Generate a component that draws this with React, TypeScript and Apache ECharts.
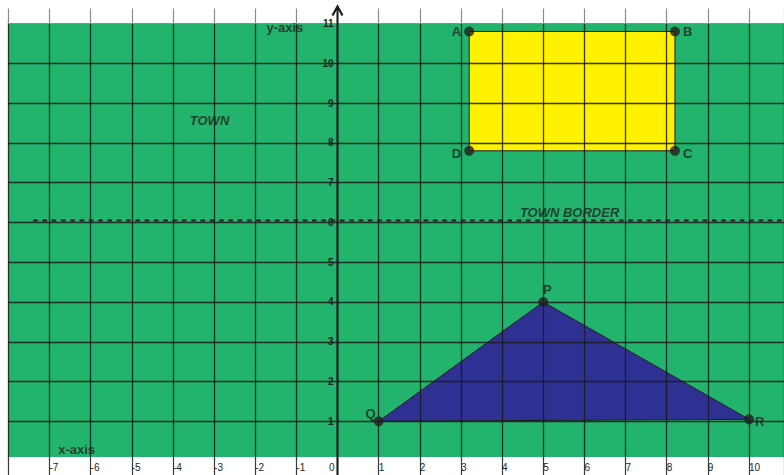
import React, { useEffect, useRef } from "react";
import * as echarts from "echarts";

// Axis extents and ticks
const X_MIN = -8;
const X_MAX = 10.85;
const Y_MIN = 0;
const Y_MAX = 11;
const TICK_STEP = 1;
const GREEN_BOTTOM = 0.1;

// Rectangle ABCD
const rectNames = ["A", "B", "C", "D"];
const rectX = [3.2, 8.2, 8.2, 3.2];
const rectY = [10.8, 10.8, 7.8, 7.8];

// Triangle PQR
const triNames = ["P", "R", "Q"];
const triX = [5, 10, 1];
const triY = [4, 1.05, 1];

// Town border (dashed)
const borderX = [-7.4, X_MAX];
const borderY = [6.05, 6.05];

// Text annotations
const noteTexts = ["TOWN", "TOWN BORDER", "y-axis", "x-axis"];
const noteX = [-3.11, 5.64, -1.28, -6.34];
const noteY = [8.57, 6.26, 10.9, 0.28];
const noteItalic = [true, true, false, false];

const GREEN = "#22b36c";
const YELLOW = "#fff200";
const NAVY = "#2e3192";
const INK = "#231f20";
const GRID_LINE = "rgba(25,25,25,0.85)";
const FONT = "'Liberation Sans', Arial, Helvetica, sans-serif";

const labelPos: Record<string, any> = {
  A: { position: "left", distance: 3, offset: [0, 0] },
  B: { position: "right", distance: 3, offset: [0, 0] },
  C: { position: "right", distance: 3, offset: [0, 3] },
  D: { position: "left", distance: 3, offset: [0, 3] },
  P: { position: "top", distance: 1, offset: [4, 0] },
  Q: { position: "left", distance: 0, offset: [2, -8] },
  R: { position: "right", distance: 1, offset: [0, 2] },
};

function polygonSeries(xs: number[], ys: number[], fill: string) {
  return {
    type: "custom",
    z: -2,
    silent: true,
    clip: false,
    data: xs.map((x, i) => [x, ys[i]]),
    renderItem: (params: any, api: any) => {
      if (params.dataIndex !== 0) return null;
      const pts = xs.map((x, i) => api.coord([x, ys[i]]));
      return {
        type: "polygon",
        shape: { points: pts },
        style: { fill, stroke: INK, lineWidth: 1 },
      };
    },
  };
}

export default function App() {
  const ref = useRef<HTMLDivElement>(null);

  useEffect(() => {
    if (!ref.current) return;
    const chart = echarts.init(ref.current, null, { renderer: "svg" });

    const pointData = [
      ...rectNames.map((n, i) => ({ name: n, value: [rectX[i], rectY[i]] })),
      ...triNames.map((n, i) => ({ name: n, value: [triX[i], triY[i]] })),
    ].map((d) => ({
      ...d,
      label: {
        show: true,
        formatter: "{b}",
        ...labelPos[d.name],
      },
    }));

    const noteData = noteTexts.map((t, i) => ({
      name: t,
      value: [noteX[i], noteY[i]],
      label: {
        show: true,
        position: "inside",
        formatter: "{b}",
        fontStyle: noteItalic[i] ? "italic" : "normal",
        fontSize: 13,
        fontWeight: "bold",
        color: INK,
      },
    }));

    const baseX = {
      type: "value",
      min: X_MIN,
      max: X_MAX,
      interval: TICK_STEP,
    };

    const option: any = {
      animation: false,
      backgroundColor: "#ffffff",
      textStyle: { fontFamily: FONT },
      grid: {
        left: 8.3,
        right: 0,
        top: 23.5,
        bottom: 13.9,
        containLabel: false,
        outerBoundsMode: "none",
      },
      xAxis: [
        {
          ...baseX,
          position: "bottom",
          axisLine: { show: false, onZero: false },
          axisTick: {
            show: true,
            length: 14,
            lineStyle: { color: "#3a3a3a", width: 1.2 },
          },
          axisLabel: {
            formatter: (v: number) =>
              Number.isInteger(v) && v !== 0 && v !== X_MIN ? String(v) : "",
            align: "left",
            verticalAlign: "middle",
            margin: 6,
            fontSize: 10,
            color: INK,
            fontFamily: FONT,
          },
          splitLine: {
            show: true,
            lineStyle: { color: GRID_LINE, width: 1.3 },
          },
        },
        {
          ...baseX,
          position: "bottom",
          axisLine: { show: false, onZero: false },
          axisTick: { show: false },
          splitLine: { show: false },
          axisLabel: {
            formatter: (v: number) => (v === 0 ? "0" : ""),
            align: "right",
            verticalAlign: "middle",
            padding: [0, 3, 0, 0],
            margin: 6,
            fontSize: 10,
            color: INK,
            fontFamily: FONT,
          },
        },
        {
          ...baseX,
          position: "top",
          axisLine: {
            show: true,
            onZero: false,
            lineStyle: { color: "#8c8c8c", width: 1.2 },
          },
          axisTick: {
            show: true,
            length: 15,
            lineStyle: { color: "#8c8c8c", width: 1.2 },
          },
          axisLabel: { show: false },
          splitLine: { show: false },
        },
      ],
      yAxis: {
        type: "value",
        position: "left",
        min: Y_MIN,
        max: Y_MAX,
        interval: TICK_STEP,
        offset: 0,
        axisLine: {
          show: false,
          onZero: false,
        },
        axisTick: { show: false },
        axisLabel: {
          formatter: (v: number) => (v === 0 ? "" : String(v)),
          margin: 4,
          fontSize: 10,
          fontWeight: "bold",
          color: INK,
          fontFamily: FONT,
        },
        splitLine: {
          show: true,
          showMinLine: false,
          showMaxLine: false,
          lineStyle: { color: GRID_LINE, width: 1.3 },
        },
      },
      series: [
        {
          type: "custom",
          z: -3,
          silent: true,
          clip: false,
          data: [[X_MIN, GREEN_BOTTOM, X_MAX, Y_MAX]],
          renderItem: (params: any, api: any) => {
            const p0 = api.coord([api.value(0), api.value(1)]);
            const p1 = api.coord([api.value(2), api.value(3)]);
            return {
              type: "rect",
              shape: {
                x: p0[0],
                y: p1[1],
                width: p1[0] - p0[0],
                height: p0[1] - p1[1],
              },
              style: { fill: GREEN },
            };
          },
        },
        polygonSeries(rectX, rectY, YELLOW),
        polygonSeries(triX, triY, NAVY),
        {
          type: "line",
          z: 3,
          silent: true,
          symbol: "none",
          data: borderX.map((x, i) => [x, borderY[i]]),
          lineStyle: { type: [4.7, 4.6], width: 2, color: INK },
        },
        {
          type: "scatter",
          z: 5,
          symbolSize: 10,
          itemStyle: { color: INK },
          label: {
            fontSize: 13,
            fontWeight: "bold",
            color: INK,
            fontFamily: FONT,
          },
          data: pointData,
        },
        {
          type: "scatter",
          z: 4,
          symbolSize: 0,
          silent: true,
          itemStyle: { color: "transparent" },
          label: { fontFamily: FONT },
          data: noteData,
        },
      ],
    };

    chart.setOption(option);

    // Place the y axis (its labels) on x = 0, found through the x scale
    const zeroPx = chart.convertToPixel({ xAxisIndex: 0 }, 0) as number;
    const leftPx = chart.convertToPixel({ xAxisIndex: 0 }, X_MIN) as number;
    const ax = zeroPx;
    chart.setOption({
      yAxis: { offset: -(zeroPx - leftPx) },
      graphic: [
        {
          type: "line",
          z: 10,
          shape: { x1: ax, y1: 7, x2: ax, y2: 475 },
          style: { stroke: "#1a1a1a", lineWidth: 2 },
        },
        {
          type: "polyline",
          z: 10,
          shape: {
            points: [
              [ax - 5, 15.5],
              [ax, 6.5],
              [ax + 5, 15.5],
            ],
          },
          style: { stroke: "#1a1a1a", lineWidth: 2.2, fill: "none" },
        },
      ],
    });

    return () => chart.dispose();
  }, []);

  return (
    <div
      ref={ref}
      style={{ position: "absolute", left: 0, top: 0, width: 784, height: 475 }}
    />
  );
}
